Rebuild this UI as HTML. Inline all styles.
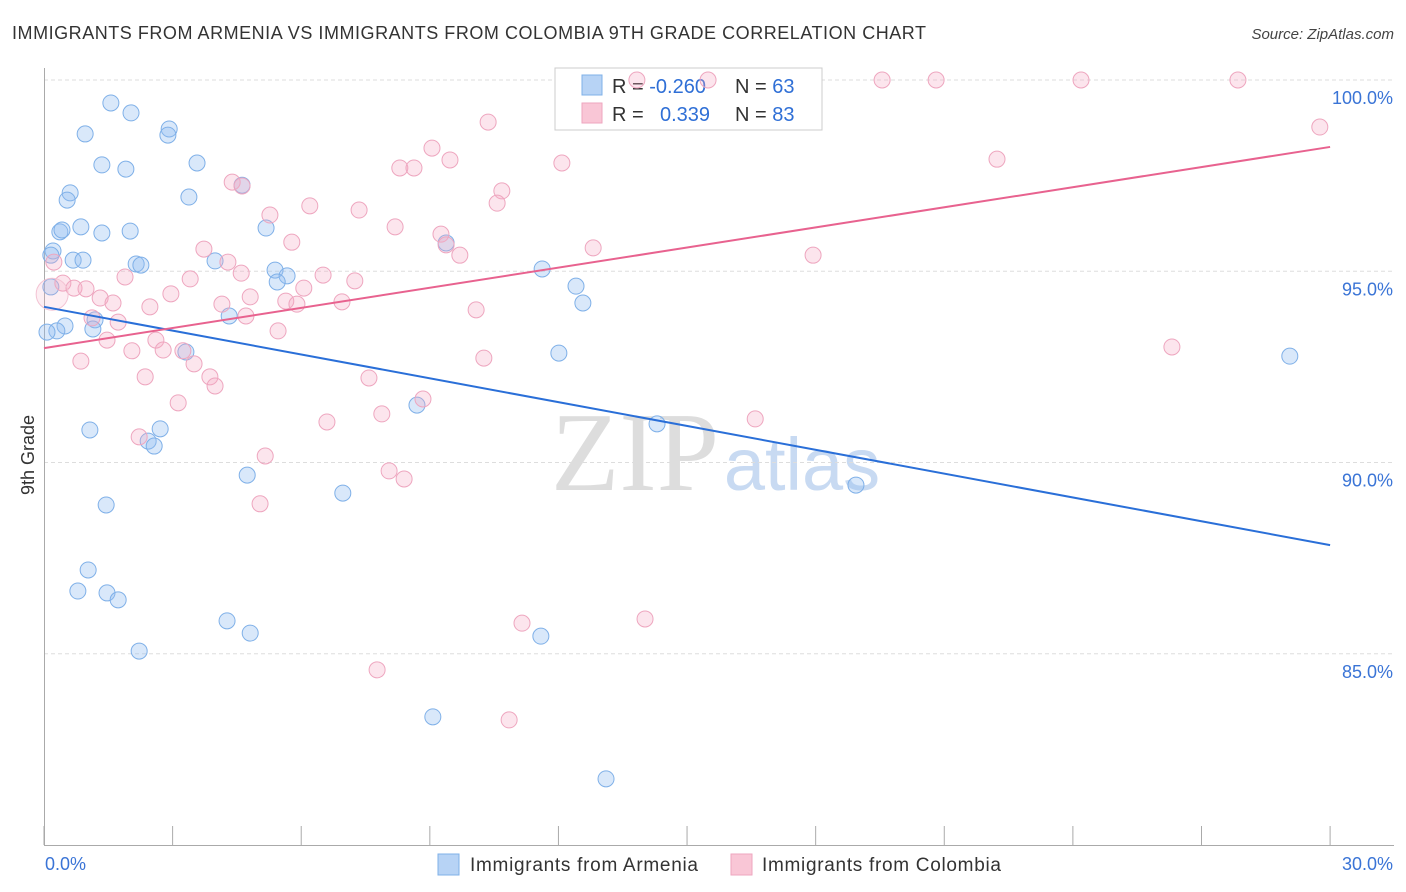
<!DOCTYPE html>
<html><head><meta charset="utf-8"><style>
body{margin:0;background:#fff;font-family:"Liberation Sans",sans-serif;}
svg{display:block}
</style></head><body>
<svg id="chart" width="1406" height="892" xmlns="http://www.w3.org/2000/svg">
<text x="12" y="39" font-size="18" textLength="914" fill="#333">IMMIGRANTS FROM ARMENIA VS IMMIGRANTS FROM COLOMBIA 9TH GRADE CORRELATION CHART</text>
<text x="1394" y="39" font-size="15" fill="#444" font-style="italic" text-anchor="end">Source: ZipAtlas.com</text>
<g>
<text x="635" y="490" font-size="112" font-family="Liberation Serif,serif" fill="#ddd" text-anchor="middle">ZIP</text>
<text x="802" y="490" font-size="74" fill="#c8daf2" text-anchor="middle">atlas</text>
</g>
<g id="grid"></g>
<g id="axes"></g>
<g>
<rect x="555" y="68" width="267" height="62" fill="#fff" stroke="#ccc"/>
<rect x="582" y="75" width="20" height="20" fill="#b7d3f5" stroke="#7fb0e8"/>
<rect x="582" y="103" width="20" height="20" fill="#f9c6d6" stroke="#eea6bf"/>
<text x="612" y="93" font-size="20" fill="#333">R = <tspan fill="#2f6fd6">-0.260</tspan></text>
<text x="735" y="93" font-size="20" fill="#333">N = <tspan fill="#2f6fd6">63</tspan></text>
<text x="612" y="121" font-size="20" fill="#333">R = <tspan fill="#2f6fd6" x="660">0.339</tspan></text>
<text x="735" y="121" font-size="20" fill="#333">N = <tspan fill="#2f6fd6">83</tspan></text>
</g>
<g id="pts"></g>
<g id="lines"></g>
<text transform="translate(34,455) rotate(-90)" font-size="18" fill="#333" text-anchor="middle">9th Grade</text>
<g>
<rect x="438" y="854" width="21" height="21" fill="#b7d3f5" stroke="#7fb0e8"/>
<text x="470" y="871" font-size="19" textLength="228" fill="#333">Immigrants from Armenia</text>
<rect x="731" y="854" width="21" height="21" fill="#f9c6d6" stroke="#eea6bf"/>
<text x="762" y="871" font-size="19" textLength="239" fill="#333">Immigrants from Colombia</text>
</g>
</svg>
<script>
const yTicks=[100,95,90,85];
const yTickLabels=["100.0%","95.0%","90.0%","85.0%"];
const xTicks=[0,3,6,9,12,15,18,21,24,27,30];
const blueX=[1.56,2.03,0.96,2.92,2.89,1.35,1.91,3.57,0.61,0.54,3.38,4.62,0.37,0.86,0.42,1.35,2.01,5.18,0.21,0.16,0.68,0.91,2.15,2.26,3.99,5.39,5.67,5.44,11.62,9.38,12.41,12.57,0.16,4.32,1.19,0.49,0.30,1.14,0.07,3.31,12.01,29.06,8.70,14.30,1.07,2.71,2.43,2.57,4.74,6.97,18.94,1.45,1.03,0.79,1.47,1.73,4.27,4.81,11.59,2.22,9.07,13.11];
const blueY=[99.40,99.14,98.59,98.72,98.56,97.78,97.67,97.83,97.05,96.86,96.94,97.25,96.03,96.16,96.08,96.00,96.05,96.13,95.53,95.42,95.29,95.29,95.19,95.16,95.27,95.03,94.88,94.72,95.06,95.74,94.61,94.17,94.59,93.83,93.73,93.57,93.44,93.49,93.41,92.89,92.86,92.78,91.50,91.01,90.85,90.88,90.56,90.43,89.67,89.20,89.41,88.89,87.19,86.64,86.59,86.41,85.86,85.54,85.46,85.07,83.35,81.73];
const pinkX=[13.83,15.49,19.55,20.81,24.19,27.85,29.76,10.36,9.05,9.47,8.30,8.63,12.08,22.23,4.39,4.62,10.68,10.57,6.20,7.35,5.27,8.19,9.26,9.38,5.78,3.73,9.70,12.81,17.94,4.29,0.23,1.89,3.41,4.60,6.51,7.25,0.44,0.70,0.98,6.06,1.31,1.61,2.47,2.96,4.15,4.81,5.64,5.90,6.95,10.08,4.71,1.12,1.73,1.47,5.46,2.61,2.78,2.05,3.24,0.86,3.50,10.26,2.36,3.87,3.99,7.58,26.31,8.84,3.13,7.88,16.59,6.60,2.22,5.16,8.05,8.40,5.04,11.15,14.02,7.77,10.85];
const pinkY=[100,100,100,100,100,100,98.77,98.90,98.22,97.91,97.70,97.70,97.83,97.93,97.33,97.23,97.10,96.78,96.71,96.60,96.47,96.16,95.97,95.69,95.76,95.58,95.42,95.61,95.42,95.24,95.24,94.85,94.80,94.95,94.90,94.75,94.69,94.56,94.54,94.56,94.30,94.17,94.07,94.41,94.14,94.33,94.22,94.14,94.20,93.99,93.83,93.78,93.67,93.20,93.44,93.20,92.94,92.92,92.92,92.65,92.58,92.73,92.24,92.24,92.00,92.21,93.02,91.66,91.56,91.27,91.14,91.06,90.67,90.17,89.78,89.57,88.92,85.80,85.91,84.58,83.27];
const bigPink=[0.19,94.4];
const blueTrend=[94.07,87.84];
const pinkTrend=[92.99,98.25];
const NS="http://www.w3.org/2000/svg";
const X=v=>44+v*42.87, Y=v=>80+(100-v)*38.25;
function mk(t,a,p){const e=document.createElementNS(NS,t);for(const k in a)e.setAttribute(k,a[k]);document.getElementById(p).appendChild(e);return e;}
yTicks.forEach((t,i)=>{
 const l=mk('line',{x1:44,x2:1394,y1:Y(t),y2:Y(t),stroke:'#ddd','stroke-dasharray':'4,3'},'grid');
 
 
 const tx=mk('text',{x:1393,y:Y(t)+24,'font-size':18,fill:'#3a74d6','text-anchor':'end'},'grid');
 tx.textContent=yTickLabels[i];
 
 
});
const ax=mk('line',{x1:44.5,x2:44.5,y1:68,y2:845,stroke:'#aaa'},'axes');


const bx=mk('line',{x1:44,x2:1394,y1:845.5,y2:845.5,stroke:'#aaa'},'axes');


xTicks.forEach(t=>{const l=mk('line',{x1:X(t),x2:X(t),y1:826,y2:845,stroke:'#aaa'},'axes');
 
 });
const x0=mk('text',{x:45,y:870,'font-size':18,fill:'#3a74d6'},'axes');x0.textContent='0.0%';


const x1=mk('text',{x:1393,y:870,'font-size':18,fill:'#3a74d6','text-anchor':'end'},'axes');x1.textContent='30.0%';


blueX.forEach((v,i)=>{const c=mk('circle',{cx:X(v),cy:Y(blueY[i]),r:8,fill:'rgba(147,190,240,0.35)',stroke:'#7fb0e8','stroke-width':1},'pts');
 
 });
pinkX.forEach((v,i)=>{const c=mk('circle',{cx:X(v),cy:Y(pinkY[i]),r:8,fill:'rgba(244,170,195,0.3)',stroke:'#eea6bf','stroke-width':1},'pts');
 
 });
const bp=mk('circle',{cx:X(bigPink[0]),cy:Y(bigPink[1]),r:16,fill:'rgba(244,170,195,0.2)',stroke:'#f3c3d3'},'pts');


const bl=mk('line',{x1:X(0),x2:X(30),y1:Y(blueTrend[0]),y2:Y(blueTrend[1]),stroke:'#2a6fd8','stroke-width':2},'lines');


const pl=mk('line',{x1:X(0),x2:X(30),y1:Y(pinkTrend[0]),y2:Y(pinkTrend[1]),stroke:'#e8628f','stroke-width':2},'lines');


</script>
</body></html>
